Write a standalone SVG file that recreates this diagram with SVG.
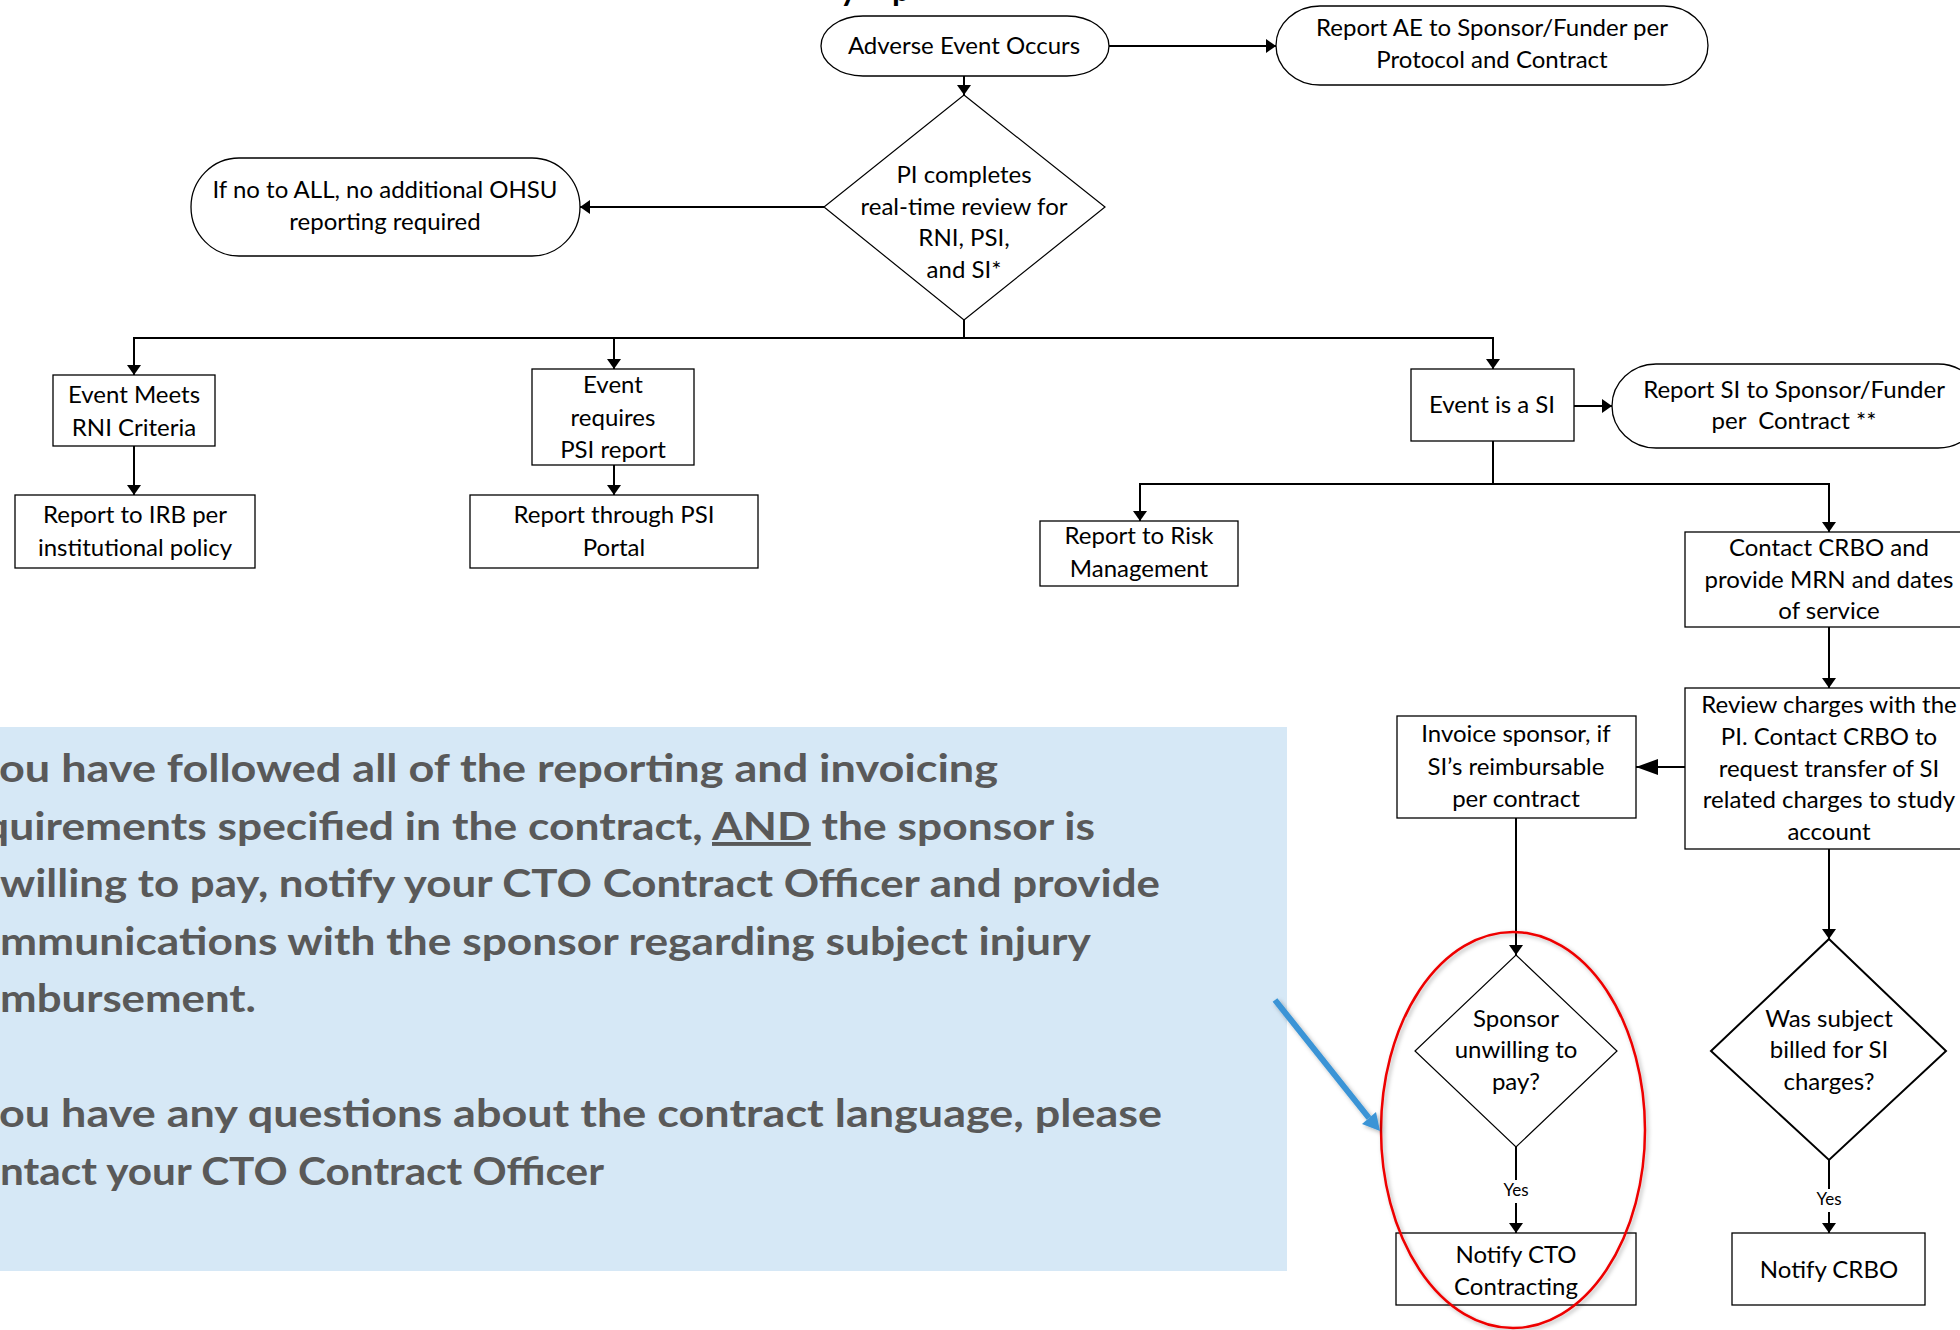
<svg xmlns="http://www.w3.org/2000/svg" width="1960" height="1330" viewBox="0 0 1960 1330">
  <defs>
    <style>
      .box { fill: #ffffff; stroke: #000000; stroke-width: 1.3; }
      .dia { fill: #ffffff; stroke: #000000; stroke-width: 1.2; }
      .dia-bold { fill: #ffffff; stroke: #000000; stroke-width: 2; }
      .t { font-family: Lato, "Liberation Sans", sans-serif; font-size: 24px; fill: #000000; text-anchor: middle; }
      .yes { font-family: Lato, "Liberation Sans", sans-serif; font-size: 17px; fill: #000000; text-anchor: middle; }
      .conn { stroke: #000000; stroke-width: 2; fill: none; }
      .arr { marker-end: url(#ah); }
      .note { font-family: Lato, "Liberation Sans", sans-serif; font-weight: bold; font-size: 39px; fill: #595959; }
      .frag { font-family: Lato, "Liberation Sans", sans-serif; font-weight: bold; font-size: 32px; fill: #000000; }
    </style>
    <marker id="ah" viewBox="0 0 10 14" refX="10" refY="7" markerWidth="10" markerHeight="14" markerUnits="userSpaceOnUse" orient="auto">
      <path d="M0,0 L10,7 L0,14 Z" fill="#000000"/>
    </marker>
    <marker id="ah-big" viewBox="0 0 22 16" refX="22" refY="8" markerWidth="22" markerHeight="16" markerUnits="userSpaceOnUse" orient="auto">
      <path d="M0,0 L22,8 L0,16 Z" fill="#000000"/>
    </marker>
    <filter id="soft" x="-20%" y="-20%" width="140%" height="140%">
      <feDropShadow dx="2" dy="2" stdDeviation="2" flood-color="#000000" flood-opacity="0.3"/>
    </filter>
  </defs>

  <rect x="0" y="0" width="1960" height="1330" fill="#ffffff"/>

  <!-- descenders of the heading line above the sheet -->
  <text class="frag" x="840" y="0.5">y</text>
  <text class="frag" x="892" y="0.5">p</text>

  <!-- explanatory note panel -->
  <g id="note-panel">
    <rect x="0" y="727" width="1287" height="544" fill="#d6e8f6"/>
    <text class="note" x="-1" y="782" textLength="999" lengthAdjust="spacingAndGlyphs">ou have followed all of the reporting and invoicing</text>
    <text class="note" x="-16" y="840" textLength="1111" lengthAdjust="spacingAndGlyphs">quirements specified in the contract, <tspan text-decoration="underline">AND</tspan> the sponsor is</text>
    <text class="note" x="0" y="897" textLength="1160" lengthAdjust="spacingAndGlyphs">willing to pay, notify your CTO Contract Officer and provide</text>
    <text class="note" x="0" y="955" textLength="1091" lengthAdjust="spacingAndGlyphs">mmunications with the sponsor regarding subject injury</text>
    <text class="note" x="0" y="1012" textLength="256" lengthAdjust="spacingAndGlyphs">mbursement.</text>
    <text class="note" x="-1" y="1127" textLength="1163" lengthAdjust="spacingAndGlyphs">ou have any questions about the contract language, please</text>
    <text class="note" x="0" y="1185" textLength="604" lengthAdjust="spacingAndGlyphs">ntact your CTO Contract Officer</text>
  </g>

  <!-- connectors -->
  <g id="connectors">
    <line class="conn arr" x1="1109" y1="46" x2="1276" y2="46"/>
    <line class="conn arr" x1="964" y1="76" x2="964" y2="95"/>
    <line class="conn arr" x1="824" y1="207" x2="580" y2="207"/>
    <polyline class="conn" points="964,320 964,338"/>
    <line class="conn" x1="133" y1="338" x2="1494" y2="338"/>
    <line class="conn arr" x1="134" y1="338" x2="134" y2="375"/>
    <line class="conn arr" x1="614" y1="338" x2="614" y2="369"/>
    <line class="conn arr" x1="1493" y1="338" x2="1493" y2="369"/>
    <line class="conn arr" x1="134" y1="446" x2="134" y2="495"/>
    <line class="conn arr" x1="614" y1="465" x2="614" y2="495"/>
    <line class="conn arr" x1="1574" y1="406" x2="1612" y2="406"/>
    <line class="conn" x1="1493" y1="441" x2="1493" y2="484"/>
    <line class="conn" x1="1139" y1="484" x2="1830" y2="484"/>
    <line class="conn arr" x1="1140" y1="484" x2="1140" y2="521"/>
    <line class="conn arr" x1="1829" y1="484" x2="1829" y2="532"/>
    <line class="conn arr" x1="1829" y1="627" x2="1829" y2="688"/>
    <line class="conn" x1="1685" y1="767" x2="1636" y2="767" marker-end="url(#ah-big)"/>
    <line class="conn arr" x1="1516" y1="818" x2="1516" y2="955"/>
    <line class="conn arr" x1="1829" y1="849" x2="1829" y2="939"/>
    <line class="conn" x1="1516" y1="1147" x2="1516" y2="1180"/>
    <line class="conn arr" x1="1516" y1="1203" x2="1516" y2="1233"/>
    <text class="yes" x="1516" y="1196">Yes</text>
    <line class="conn" x1="1829" y1="1160" x2="1829" y2="1189"/>
    <line class="conn arr" x1="1829" y1="1212" x2="1829" y2="1233"/>
    <text class="yes" x="1829" y="1205">Yes</text>
  </g>

  <!-- nodes -->
  <g id="adverse-event">
    <rect class="box" x="821" y="16" width="288" height="60" rx="42" ry="30"/>
    <text class="t" x="964" y="54">Adverse Event Occurs</text>
  </g>

  <g id="report-ae">
    <rect class="box" x="1276" y="6" width="432" height="79" rx="44" ry="39.5"/>
    <text class="t" x="1492" y="36">Report AE to Sponsor/Funder per</text>
    <text class="t" x="1492" y="68">Protocol and Contract</text>
  </g>

  <g id="pi-review">
    <polygon class="dia" points="964,95 1105,207 964,320 824,207"/>
    <text class="t" x="964" y="183">PI completes</text>
    <text class="t" x="964" y="215">real-time review for</text>
    <text class="t" x="964" y="246">RNI, PSI,</text>
    <text class="t" x="964" y="278">and SI*</text>
  </g>

  <g id="no-reporting">
    <rect class="box" x="191" y="158" width="389" height="98" rx="48" ry="49"/>
    <text class="t" x="385" y="198">If no to ALL, no additional OHSU</text>
    <text class="t" x="385" y="230">reporting required</text>
  </g>

  <g id="rni-criteria">
    <rect class="box" x="53" y="375" width="162" height="71"/>
    <text class="t" x="134" y="403">Event Meets</text>
    <text class="t" x="134" y="436">RNI Criteria</text>
  </g>

  <g id="report-irb">
    <rect class="box" x="15" y="495" width="240" height="73"/>
    <text class="t" x="135" y="523">Report to IRB per</text>
    <text class="t" x="135" y="556">institutional policy</text>
  </g>

  <g id="psi-report">
    <rect class="box" x="532" y="369" width="162" height="96"/>
    <text class="t" x="613" y="393">Event</text>
    <text class="t" x="613" y="426">requires</text>
    <text class="t" x="613" y="458">PSI report</text>
  </g>

  <g id="psi-portal">
    <rect class="box" x="470" y="495" width="288" height="73"/>
    <text class="t" x="614" y="523">Report through PSI</text>
    <text class="t" x="614" y="556">Portal</text>
  </g>

  <g id="event-si">
    <rect class="box" x="1411" y="369" width="163" height="72"/>
    <text class="t" x="1492" y="413">Event is a SI</text>
  </g>

  <g id="report-si">
    <rect class="box" x="1612" y="364" width="370" height="84" rx="44" ry="42"/>
    <text class="t" x="1794" y="398">Report SI to Sponsor/Funder</text>
    <text class="t" x="1794" y="429" xml:space="preserve">per  Contract **</text>
  </g>

  <g id="risk-management">
    <rect class="box" x="1040" y="521" width="198" height="65"/>
    <text class="t" x="1139" y="544">Report to Risk</text>
    <text class="t" x="1139" y="577">Management</text>
  </g>

  <g id="contact-crbo">
    <rect class="box" x="1685" y="532" width="290" height="95"/>
    <text class="t" x="1829" y="556">Contact CRBO and</text>
    <text class="t" x="1829" y="588">provide MRN and dates</text>
    <text class="t" x="1829" y="619">of service</text>
  </g>

  <g id="review-charges">
    <rect class="box" x="1685" y="688" width="290" height="161"/>
    <text class="t" x="1829" y="713">Review charges with the</text>
    <text class="t" x="1829" y="745">PI. Contact CRBO to</text>
    <text class="t" x="1829" y="777">request transfer of SI</text>
    <text class="t" x="1829" y="808">related charges to study</text>
    <text class="t" x="1829" y="840">account</text>
  </g>

  <g id="invoice-sponsor">
    <rect class="box" x="1397" y="716" width="239" height="102"/>
    <text class="t" x="1516" y="742">Invoice sponsor, if</text>
    <text class="t" x="1516" y="775">SI’s reimbursable</text>
    <text class="t" x="1516" y="807">per contract</text>
  </g>

  <g id="sponsor-unwilling">
    <polygon class="dia" points="1516,955 1617,1051 1516,1147 1415,1051"/>
    <text class="t" x="1516" y="1027">Sponsor</text>
    <text class="t" x="1516" y="1058">unwilling to</text>
    <text class="t" x="1516" y="1090">pay?</text>
  </g>

  <g id="subject-billed">
    <polygon class="dia-bold" points="1829,939 1946,1051 1829,1160 1711,1051"/>
    <text class="t" x="1829" y="1027">Was subject</text>
    <text class="t" x="1829" y="1058">billed for SI</text>
    <text class="t" x="1829" y="1090">charges?</text>
  </g>

  <g id="notify-cto">
    <rect class="box" x="1396" y="1233" width="240" height="72"/>
    <text class="t" x="1516" y="1263">Notify CTO</text>
    <text class="t" x="1516" y="1295">Contracting</text>
  </g>

  <g id="notify-crbo">
    <rect class="box" x="1732" y="1233" width="193" height="72"/>
    <text class="t" x="1829" y="1278">Notify CRBO</text>
  </g>

  <!-- highlight ring and pointer -->
  <g id="highlight">
    <ellipse cx="1513" cy="1130" rx="132" ry="198" fill="none" stroke="#ee0000" stroke-width="2.5" filter="url(#soft)"/>
    <g filter="url(#soft)">
      <line x1="1275" y1="1000" x2="1369" y2="1118" stroke="#3a94d6" stroke-width="6" stroke-linecap="butt"/>
      <polygon points="1380,1131 1362,1124 1376,1112" fill="#3a94d6"/>
    </g>
  </g>
</svg>
